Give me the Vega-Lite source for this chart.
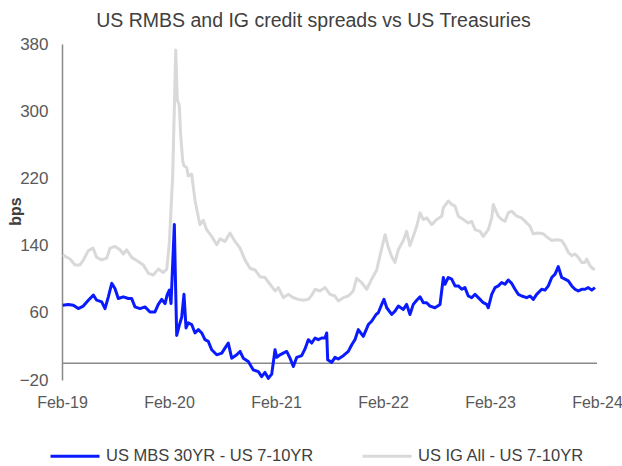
{
  "$schema": "https://vega.github.io/schema/vega-lite/v6.json",
  "width": 535,
  "height": 336,
  "autosize": {"type": "none"},
  "padding": {"left": 62, "top": 44, "right": 25, "bottom": 86},
  "background": "white",
  "config": {"font": "Liberation Sans", "view": {"stroke": null}, "axis": {"grid": false}},
  "title": {"text": "US RMBS and IG credit spreads vs US Treasuries", "fontSize": 19.5, "fontWeight": "normal", "color": "#404040", "anchor": "middle", "dx": -16, "offset": 4},
  "layer": [
    {
      "data": {"values": [{}]},
      "mark": {"type": "rule", "color": "#898989", "strokeWidth": 1.5},
      "encoding": {"y": {"datum": 0, "type": "quantitative"}}
    },
    {
      "data": {"values": [
        {"s": "US IG All - US 7-10YR", "t": 2019.092, "v": 129},
        {"s": "US IG All - US 7-10YR", "t": 2019.160, "v": 124},
        {"s": "US IG All - US 7-10YR", "t": 2019.206, "v": 117},
        {"s": "US IG All - US 7-10YR", "t": 2019.253, "v": 117},
        {"s": "US IG All - US 7-10YR", "t": 2019.281, "v": 122},
        {"s": "US IG All - US 7-10YR", "t": 2019.331, "v": 134},
        {"s": "US IG All - US 7-10YR", "t": 2019.375, "v": 137},
        {"s": "US IG All - US 7-10YR", "t": 2019.409, "v": 126},
        {"s": "US IG All - US 7-10YR", "t": 2019.456, "v": 123},
        {"s": "US IG All - US 7-10YR", "t": 2019.503, "v": 125},
        {"s": "US IG All - US 7-10YR", "t": 2019.534, "v": 137},
        {"s": "US IG All - US 7-10YR", "t": 2019.580, "v": 139},
        {"s": "US IG All - US 7-10YR", "t": 2019.627, "v": 135},
        {"s": "US IG All - US 7-10YR", "t": 2019.658, "v": 130},
        {"s": "US IG All - US 7-10YR", "t": 2019.690, "v": 135},
        {"s": "US IG All - US 7-10YR", "t": 2019.736, "v": 126},
        {"s": "US IG All - US 7-10YR", "t": 2019.798, "v": 121},
        {"s": "US IG All - US 7-10YR", "t": 2019.845, "v": 117},
        {"s": "US IG All - US 7-10YR", "t": 2019.892, "v": 107},
        {"s": "US IG All - US 7-10YR", "t": 2019.938, "v": 105},
        {"s": "US IG All - US 7-10YR", "t": 2019.985, "v": 112},
        {"s": "US IG All - US 7-10YR", "t": 2020.032, "v": 108},
        {"s": "US IG All - US 7-10YR", "t": 2020.064, "v": 112},
        {"s": "US IG All - US 7-10YR", "t": 2020.088, "v": 143},
        {"s": "US IG All - US 7-10YR", "t": 2020.120, "v": 225},
        {"s": "US IG All - US 7-10YR", "t": 2020.141, "v": 337},
        {"s": "US IG All - US 7-10YR", "t": 2020.148, "v": 373},
        {"s": "US IG All - US 7-10YR", "t": 2020.163, "v": 313},
        {"s": "US IG All - US 7-10YR", "t": 2020.181, "v": 307},
        {"s": "US IG All - US 7-10YR", "t": 2020.194, "v": 272},
        {"s": "US IG All - US 7-10YR", "t": 2020.213, "v": 241},
        {"s": "US IG All - US 7-10YR", "t": 2020.225, "v": 235},
        {"s": "US IG All - US 7-10YR", "t": 2020.250, "v": 233},
        {"s": "US IG All - US 7-10YR", "t": 2020.265, "v": 223},
        {"s": "US IG All - US 7-10YR", "t": 2020.297, "v": 225},
        {"s": "US IG All - US 7-10YR", "t": 2020.328, "v": 194},
        {"s": "US IG All - US 7-10YR", "t": 2020.359, "v": 174},
        {"s": "US IG All - US 7-10YR", "t": 2020.375, "v": 165},
        {"s": "US IG All - US 7-10YR", "t": 2020.406, "v": 170},
        {"s": "US IG All - US 7-10YR", "t": 2020.437, "v": 159},
        {"s": "US IG All - US 7-10YR", "t": 2020.484, "v": 151},
        {"s": "US IG All - US 7-10YR", "t": 2020.531, "v": 141},
        {"s": "US IG All - US 7-10YR", "t": 2020.562, "v": 148},
        {"s": "US IG All - US 7-10YR", "t": 2020.608, "v": 145},
        {"s": "US IG All - US 7-10YR", "t": 2020.655, "v": 155},
        {"s": "US IG All - US 7-10YR", "t": 2020.702, "v": 145},
        {"s": "US IG All - US 7-10YR", "t": 2020.749, "v": 137},
        {"s": "US IG All - US 7-10YR", "t": 2020.795, "v": 123},
        {"s": "US IG All - US 7-10YR", "t": 2020.842, "v": 113},
        {"s": "US IG All - US 7-10YR", "t": 2020.889, "v": 111},
        {"s": "US IG All - US 7-10YR", "t": 2020.935, "v": 103},
        {"s": "US IG All - US 7-10YR", "t": 2020.982, "v": 102},
        {"s": "US IG All - US 7-10YR", "t": 2021.029, "v": 94},
        {"s": "US IG All - US 7-10YR", "t": 2021.076, "v": 86},
        {"s": "US IG All - US 7-10YR", "t": 2021.107, "v": 90},
        {"s": "US IG All - US 7-10YR", "t": 2021.153, "v": 78},
        {"s": "US IG All - US 7-10YR", "t": 2021.200, "v": 82},
        {"s": "US IG All - US 7-10YR", "t": 2021.247, "v": 78},
        {"s": "US IG All - US 7-10YR", "t": 2021.293, "v": 76},
        {"s": "US IG All - US 7-10YR", "t": 2021.340, "v": 75},
        {"s": "US IG All - US 7-10YR", "t": 2021.387, "v": 76},
        {"s": "US IG All - US 7-10YR", "t": 2021.419, "v": 81},
        {"s": "US IG All - US 7-10YR", "t": 2021.450, "v": 88},
        {"s": "US IG All - US 7-10YR", "t": 2021.496, "v": 86},
        {"s": "US IG All - US 7-10YR", "t": 2021.543, "v": 90},
        {"s": "US IG All - US 7-10YR", "t": 2021.590, "v": 82},
        {"s": "US IG All - US 7-10YR", "t": 2021.636, "v": 80},
        {"s": "US IG All - US 7-10YR", "t": 2021.667, "v": 74},
        {"s": "US IG All - US 7-10YR", "t": 2021.714, "v": 78},
        {"s": "US IG All - US 7-10YR", "t": 2021.761, "v": 80},
        {"s": "US IG All - US 7-10YR", "t": 2021.807, "v": 86},
        {"s": "US IG All - US 7-10YR", "t": 2021.839, "v": 101},
        {"s": "US IG All - US 7-10YR", "t": 2021.886, "v": 96},
        {"s": "US IG All - US 7-10YR", "t": 2021.933, "v": 88},
        {"s": "US IG All - US 7-10YR", "t": 2021.979, "v": 100},
        {"s": "US IG All - US 7-10YR", "t": 2022.026, "v": 111},
        {"s": "US IG All - US 7-10YR", "t": 2022.057, "v": 128},
        {"s": "US IG All - US 7-10YR", "t": 2022.104, "v": 153},
        {"s": "US IG All - US 7-10YR", "t": 2022.135, "v": 138},
        {"s": "US IG All - US 7-10YR", "t": 2022.166, "v": 127},
        {"s": "US IG All - US 7-10YR", "t": 2022.197, "v": 120},
        {"s": "US IG All - US 7-10YR", "t": 2022.228, "v": 135},
        {"s": "US IG All - US 7-10YR", "t": 2022.275, "v": 146},
        {"s": "US IG All - US 7-10YR", "t": 2022.306, "v": 157},
        {"s": "US IG All - US 7-10YR", "t": 2022.337, "v": 140},
        {"s": "US IG All - US 7-10YR", "t": 2022.368, "v": 151},
        {"s": "US IG All - US 7-10YR", "t": 2022.400, "v": 163},
        {"s": "US IG All - US 7-10YR", "t": 2022.431, "v": 179},
        {"s": "US IG All - US 7-10YR", "t": 2022.462, "v": 171},
        {"s": "US IG All - US 7-10YR", "t": 2022.493, "v": 173},
        {"s": "US IG All - US 7-10YR", "t": 2022.540, "v": 165},
        {"s": "US IG All - US 7-10YR", "t": 2022.587, "v": 171},
        {"s": "US IG All - US 7-10YR", "t": 2022.634, "v": 175},
        {"s": "US IG All - US 7-10YR", "t": 2022.649, "v": 185},
        {"s": "US IG All - US 7-10YR", "t": 2022.695, "v": 193},
        {"s": "US IG All - US 7-10YR", "t": 2022.727, "v": 189},
        {"s": "US IG All - US 7-10YR", "t": 2022.758, "v": 187},
        {"s": "US IG All - US 7-10YR", "t": 2022.789, "v": 175},
        {"s": "US IG All - US 7-10YR", "t": 2022.836, "v": 171},
        {"s": "US IG All - US 7-10YR", "t": 2022.882, "v": 167},
        {"s": "US IG All - US 7-10YR", "t": 2022.914, "v": 169},
        {"s": "US IG All - US 7-10YR", "t": 2022.945, "v": 159},
        {"s": "US IG All - US 7-10YR", "t": 2022.992, "v": 157},
        {"s": "US IG All - US 7-10YR", "t": 2023.022, "v": 151},
        {"s": "US IG All - US 7-10YR", "t": 2023.069, "v": 159},
        {"s": "US IG All - US 7-10YR", "t": 2023.101, "v": 173},
        {"s": "US IG All - US 7-10YR", "t": 2023.116, "v": 189},
        {"s": "US IG All - US 7-10YR", "t": 2023.141, "v": 181},
        {"s": "US IG All - US 7-10YR", "t": 2023.163, "v": 175},
        {"s": "US IG All - US 7-10YR", "t": 2023.194, "v": 171},
        {"s": "US IG All - US 7-10YR", "t": 2023.225, "v": 169},
        {"s": "US IG All - US 7-10YR", "t": 2023.256, "v": 179},
        {"s": "US IG All - US 7-10YR", "t": 2023.288, "v": 181},
        {"s": "US IG All - US 7-10YR", "t": 2023.335, "v": 175},
        {"s": "US IG All - US 7-10YR", "t": 2023.381, "v": 173},
        {"s": "US IG All - US 7-10YR", "t": 2023.428, "v": 167},
        {"s": "US IG All - US 7-10YR", "t": 2023.459, "v": 163},
        {"s": "US IG All - US 7-10YR", "t": 2023.490, "v": 154},
        {"s": "US IG All - US 7-10YR", "t": 2023.536, "v": 155},
        {"s": "US IG All - US 7-10YR", "t": 2023.583, "v": 154},
        {"s": "US IG All - US 7-10YR", "t": 2023.630, "v": 149},
        {"s": "US IG All - US 7-10YR", "t": 2023.662, "v": 146},
        {"s": "US IG All - US 7-10YR", "t": 2023.708, "v": 147},
        {"s": "US IG All - US 7-10YR", "t": 2023.755, "v": 146},
        {"s": "US IG All - US 7-10YR", "t": 2023.786, "v": 140},
        {"s": "US IG All - US 7-10YR", "t": 2023.817, "v": 132},
        {"s": "US IG All - US 7-10YR", "t": 2023.849, "v": 128},
        {"s": "US IG All - US 7-10YR", "t": 2023.879, "v": 130},
        {"s": "US IG All - US 7-10YR", "t": 2023.910, "v": 126},
        {"s": "US IG All - US 7-10YR", "t": 2023.942, "v": 120},
        {"s": "US IG All - US 7-10YR", "t": 2023.973, "v": 120},
        {"s": "US IG All - US 7-10YR", "t": 2023.989, "v": 124},
        {"s": "US IG All - US 7-10YR", "t": 2024.020, "v": 116},
        {"s": "US IG All - US 7-10YR", "t": 2024.050, "v": 112},
        {"s": "US IG All - US 7-10YR", "t": 2024.066, "v": 113},
        {"s": "US MBS 30YR - US 7-10YR", "t": 2019.092, "v": 69},
        {"s": "US MBS 30YR - US 7-10YR", "t": 2019.144, "v": 70},
        {"s": "US MBS 30YR - US 7-10YR", "t": 2019.191, "v": 69},
        {"s": "US MBS 30YR - US 7-10YR", "t": 2019.237, "v": 65},
        {"s": "US MBS 30YR - US 7-10YR", "t": 2019.284, "v": 68},
        {"s": "US MBS 30YR - US 7-10YR", "t": 2019.331, "v": 75},
        {"s": "US MBS 30YR - US 7-10YR", "t": 2019.378, "v": 81},
        {"s": "US MBS 30YR - US 7-10YR", "t": 2019.409, "v": 75},
        {"s": "US MBS 30YR - US 7-10YR", "t": 2019.456, "v": 73},
        {"s": "US MBS 30YR - US 7-10YR", "t": 2019.487, "v": 65},
        {"s": "US MBS 30YR - US 7-10YR", "t": 2019.518, "v": 79},
        {"s": "US MBS 30YR - US 7-10YR", "t": 2019.550, "v": 95},
        {"s": "US MBS 30YR - US 7-10YR", "t": 2019.580, "v": 89},
        {"s": "US MBS 30YR - US 7-10YR", "t": 2019.611, "v": 77},
        {"s": "US MBS 30YR - US 7-10YR", "t": 2019.658, "v": 79},
        {"s": "US MBS 30YR - US 7-10YR", "t": 2019.705, "v": 77},
        {"s": "US MBS 30YR - US 7-10YR", "t": 2019.736, "v": 77},
        {"s": "US MBS 30YR - US 7-10YR", "t": 2019.767, "v": 67},
        {"s": "US MBS 30YR - US 7-10YR", "t": 2019.814, "v": 65},
        {"s": "US MBS 30YR - US 7-10YR", "t": 2019.861, "v": 67},
        {"s": "US MBS 30YR - US 7-10YR", "t": 2019.907, "v": 61},
        {"s": "US MBS 30YR - US 7-10YR", "t": 2019.954, "v": 61},
        {"s": "US MBS 30YR - US 7-10YR", "t": 2019.985, "v": 70},
        {"s": "US MBS 30YR - US 7-10YR", "t": 2020.017, "v": 76},
        {"s": "US MBS 30YR - US 7-10YR", "t": 2020.048, "v": 71},
        {"s": "US MBS 30YR - US 7-10YR", "t": 2020.069, "v": 82},
        {"s": "US MBS 30YR - US 7-10YR", "t": 2020.088, "v": 87},
        {"s": "US MBS 30YR - US 7-10YR", "t": 2020.104, "v": 71},
        {"s": "US MBS 30YR - US 7-10YR", "t": 2020.120, "v": 120},
        {"s": "US MBS 30YR - US 7-10YR", "t": 2020.135, "v": 165},
        {"s": "US MBS 30YR - US 7-10YR", "t": 2020.144, "v": 106},
        {"s": "US MBS 30YR - US 7-10YR", "t": 2020.157, "v": 33},
        {"s": "US MBS 30YR - US 7-10YR", "t": 2020.181, "v": 45},
        {"s": "US MBS 30YR - US 7-10YR", "t": 2020.204, "v": 55},
        {"s": "US MBS 30YR - US 7-10YR", "t": 2020.225, "v": 82},
        {"s": "US MBS 30YR - US 7-10YR", "t": 2020.244, "v": 42},
        {"s": "US MBS 30YR - US 7-10YR", "t": 2020.265, "v": 48},
        {"s": "US MBS 30YR - US 7-10YR", "t": 2020.297, "v": 46},
        {"s": "US MBS 30YR - US 7-10YR", "t": 2020.328, "v": 36},
        {"s": "US MBS 30YR - US 7-10YR", "t": 2020.359, "v": 40},
        {"s": "US MBS 30YR - US 7-10YR", "t": 2020.391, "v": 36},
        {"s": "US MBS 30YR - US 7-10YR", "t": 2020.421, "v": 28},
        {"s": "US MBS 30YR - US 7-10YR", "t": 2020.452, "v": 26},
        {"s": "US MBS 30YR - US 7-10YR", "t": 2020.484, "v": 16},
        {"s": "US MBS 30YR - US 7-10YR", "t": 2020.531, "v": 10},
        {"s": "US MBS 30YR - US 7-10YR", "t": 2020.578, "v": 12},
        {"s": "US MBS 30YR - US 7-10YR", "t": 2020.608, "v": 18},
        {"s": "US MBS 30YR - US 7-10YR", "t": 2020.639, "v": 24},
        {"s": "US MBS 30YR - US 7-10YR", "t": 2020.671, "v": 6},
        {"s": "US MBS 30YR - US 7-10YR", "t": 2020.718, "v": 10},
        {"s": "US MBS 30YR - US 7-10YR", "t": 2020.749, "v": 14},
        {"s": "US MBS 30YR - US 7-10YR", "t": 2020.779, "v": 6},
        {"s": "US MBS 30YR - US 7-10YR", "t": 2020.826, "v": 2},
        {"s": "US MBS 30YR - US 7-10YR", "t": 2020.873, "v": -8},
        {"s": "US MBS 30YR - US 7-10YR", "t": 2020.920, "v": -10},
        {"s": "US MBS 30YR - US 7-10YR", "t": 2020.951, "v": -16},
        {"s": "US MBS 30YR - US 7-10YR", "t": 2020.982, "v": -11},
        {"s": "US MBS 30YR - US 7-10YR", "t": 2021.013, "v": -18},
        {"s": "US MBS 30YR - US 7-10YR", "t": 2021.045, "v": -13},
        {"s": "US MBS 30YR - US 7-10YR", "t": 2021.076, "v": 16},
        {"s": "US MBS 30YR - US 7-10YR", "t": 2021.092, "v": 7},
        {"s": "US MBS 30YR - US 7-10YR", "t": 2021.122, "v": 10},
        {"s": "US MBS 30YR - US 7-10YR", "t": 2021.153, "v": 12},
        {"s": "US MBS 30YR - US 7-10YR", "t": 2021.185, "v": 14},
        {"s": "US MBS 30YR - US 7-10YR", "t": 2021.216, "v": 6},
        {"s": "US MBS 30YR - US 7-10YR", "t": 2021.247, "v": -4},
        {"s": "US MBS 30YR - US 7-10YR", "t": 2021.279, "v": 7},
        {"s": "US MBS 30YR - US 7-10YR", "t": 2021.325, "v": 9},
        {"s": "US MBS 30YR - US 7-10YR", "t": 2021.356, "v": 17},
        {"s": "US MBS 30YR - US 7-10YR", "t": 2021.387, "v": 28},
        {"s": "US MBS 30YR - US 7-10YR", "t": 2021.419, "v": 24},
        {"s": "US MBS 30YR - US 7-10YR", "t": 2021.450, "v": 30},
        {"s": "US MBS 30YR - US 7-10YR", "t": 2021.480, "v": 28},
        {"s": "US MBS 30YR - US 7-10YR", "t": 2021.512, "v": 30},
        {"s": "US MBS 30YR - US 7-10YR", "t": 2021.543, "v": 30},
        {"s": "US MBS 30YR - US 7-10YR", "t": 2021.559, "v": 36},
        {"s": "US MBS 30YR - US 7-10YR", "t": 2021.568, "v": 4},
        {"s": "US MBS 30YR - US 7-10YR", "t": 2021.606, "v": 1},
        {"s": "US MBS 30YR - US 7-10YR", "t": 2021.636, "v": 7},
        {"s": "US MBS 30YR - US 7-10YR", "t": 2021.667, "v": 5},
        {"s": "US MBS 30YR - US 7-10YR", "t": 2021.714, "v": 9},
        {"s": "US MBS 30YR - US 7-10YR", "t": 2021.761, "v": 14},
        {"s": "US MBS 30YR - US 7-10YR", "t": 2021.793, "v": 22},
        {"s": "US MBS 30YR - US 7-10YR", "t": 2021.823, "v": 28},
        {"s": "US MBS 30YR - US 7-10YR", "t": 2021.854, "v": 40},
        {"s": "US MBS 30YR - US 7-10YR", "t": 2021.901, "v": 32},
        {"s": "US MBS 30YR - US 7-10YR", "t": 2021.948, "v": 46},
        {"s": "US MBS 30YR - US 7-10YR", "t": 2021.979, "v": 50},
        {"s": "US MBS 30YR - US 7-10YR", "t": 2022.020, "v": 58},
        {"s": "US MBS 30YR - US 7-10YR", "t": 2022.041, "v": 60},
        {"s": "US MBS 30YR - US 7-10YR", "t": 2022.073, "v": 70},
        {"s": "US MBS 30YR - US 7-10YR", "t": 2022.094, "v": 76},
        {"s": "US MBS 30YR - US 7-10YR", "t": 2022.120, "v": 66},
        {"s": "US MBS 30YR - US 7-10YR", "t": 2022.166, "v": 58},
        {"s": "US MBS 30YR - US 7-10YR", "t": 2022.197, "v": 62},
        {"s": "US MBS 30YR - US 7-10YR", "t": 2022.228, "v": 68},
        {"s": "US MBS 30YR - US 7-10YR", "t": 2022.275, "v": 64},
        {"s": "US MBS 30YR - US 7-10YR", "t": 2022.306, "v": 70},
        {"s": "US MBS 30YR - US 7-10YR", "t": 2022.337, "v": 58},
        {"s": "US MBS 30YR - US 7-10YR", "t": 2022.368, "v": 70},
        {"s": "US MBS 30YR - US 7-10YR", "t": 2022.400, "v": 75},
        {"s": "US MBS 30YR - US 7-10YR", "t": 2022.431, "v": 79},
        {"s": "US MBS 30YR - US 7-10YR", "t": 2022.462, "v": 72},
        {"s": "US MBS 30YR - US 7-10YR", "t": 2022.493, "v": 72},
        {"s": "US MBS 30YR - US 7-10YR", "t": 2022.524, "v": 68},
        {"s": "US MBS 30YR - US 7-10YR", "t": 2022.571, "v": 66},
        {"s": "US MBS 30YR - US 7-10YR", "t": 2022.618, "v": 70},
        {"s": "US MBS 30YR - US 7-10YR", "t": 2022.649, "v": 102},
        {"s": "US MBS 30YR - US 7-10YR", "t": 2022.664, "v": 94},
        {"s": "US MBS 30YR - US 7-10YR", "t": 2022.695, "v": 102},
        {"s": "US MBS 30YR - US 7-10YR", "t": 2022.727, "v": 100},
        {"s": "US MBS 30YR - US 7-10YR", "t": 2022.758, "v": 92},
        {"s": "US MBS 30YR - US 7-10YR", "t": 2022.789, "v": 92},
        {"s": "US MBS 30YR - US 7-10YR", "t": 2022.821, "v": 88},
        {"s": "US MBS 30YR - US 7-10YR", "t": 2022.851, "v": 90},
        {"s": "US MBS 30YR - US 7-10YR", "t": 2022.882, "v": 80},
        {"s": "US MBS 30YR - US 7-10YR", "t": 2022.914, "v": 78},
        {"s": "US MBS 30YR - US 7-10YR", "t": 2022.945, "v": 82},
        {"s": "US MBS 30YR - US 7-10YR", "t": 2022.992, "v": 76},
        {"s": "US MBS 30YR - US 7-10YR", "t": 2023.022, "v": 72},
        {"s": "US MBS 30YR - US 7-10YR", "t": 2023.054, "v": 70},
        {"s": "US MBS 30YR - US 7-10YR", "t": 2023.069, "v": 66},
        {"s": "US MBS 30YR - US 7-10YR", "t": 2023.101, "v": 82},
        {"s": "US MBS 30YR - US 7-10YR", "t": 2023.132, "v": 90},
        {"s": "US MBS 30YR - US 7-10YR", "t": 2023.163, "v": 92},
        {"s": "US MBS 30YR - US 7-10YR", "t": 2023.194, "v": 96},
        {"s": "US MBS 30YR - US 7-10YR", "t": 2023.225, "v": 94},
        {"s": "US MBS 30YR - US 7-10YR", "t": 2023.256, "v": 99},
        {"s": "US MBS 30YR - US 7-10YR", "t": 2023.288, "v": 95},
        {"s": "US MBS 30YR - US 7-10YR", "t": 2023.319, "v": 88},
        {"s": "US MBS 30YR - US 7-10YR", "t": 2023.350, "v": 82},
        {"s": "US MBS 30YR - US 7-10YR", "t": 2023.381, "v": 80},
        {"s": "US MBS 30YR - US 7-10YR", "t": 2023.428, "v": 78},
        {"s": "US MBS 30YR - US 7-10YR", "t": 2023.459, "v": 80},
        {"s": "US MBS 30YR - US 7-10YR", "t": 2023.490, "v": 76},
        {"s": "US MBS 30YR - US 7-10YR", "t": 2023.521, "v": 82},
        {"s": "US MBS 30YR - US 7-10YR", "t": 2023.568, "v": 88},
        {"s": "US MBS 30YR - US 7-10YR", "t": 2023.599, "v": 87},
        {"s": "US MBS 30YR - US 7-10YR", "t": 2023.630, "v": 92},
        {"s": "US MBS 30YR - US 7-10YR", "t": 2023.662, "v": 102},
        {"s": "US MBS 30YR - US 7-10YR", "t": 2023.693, "v": 106},
        {"s": "US MBS 30YR - US 7-10YR", "t": 2023.723, "v": 115},
        {"s": "US MBS 30YR - US 7-10YR", "t": 2023.755, "v": 102},
        {"s": "US MBS 30YR - US 7-10YR", "t": 2023.786, "v": 100},
        {"s": "US MBS 30YR - US 7-10YR", "t": 2023.817, "v": 98},
        {"s": "US MBS 30YR - US 7-10YR", "t": 2023.849, "v": 92},
        {"s": "US MBS 30YR - US 7-10YR", "t": 2023.879, "v": 88},
        {"s": "US MBS 30YR - US 7-10YR", "t": 2023.910, "v": 86},
        {"s": "US MBS 30YR - US 7-10YR", "t": 2023.942, "v": 88},
        {"s": "US MBS 30YR - US 7-10YR", "t": 2023.973, "v": 88},
        {"s": "US MBS 30YR - US 7-10YR", "t": 2024.004, "v": 90},
        {"s": "US MBS 30YR - US 7-10YR", "t": 2024.036, "v": 87},
        {"s": "US MBS 30YR - US 7-10YR", "t": 2024.066, "v": 90}
      ]},
      "mark": {"type": "line", "strokeWidth": 3, "strokeJoin": "round"},
      "encoding": {
        "x": {
          "field": "t", "type": "quantitative",
          "scale": {"domain": [2019.085, 2024.085], "nice": false, "zero": false},
          "axis": {
            "values": [2019.085, 2020.085, 2021.085, 2022.085, 2023.085, 2024.085],
            "labelExpr": "'Feb-' + substring(toString(floor(datum.value)), 2, 4)",
            "domain": false, "ticks": false, "grid": false, "title": null,
            "labelFontSize": 16, "labelColor": "#595959", "labelPadding": 14,
            "labelFlush": false, "labelOverlap": false
          }
        },
        "y": {
          "field": "v", "type": "quantitative",
          "scale": {"domain": [-20, 380], "nice": false, "zero": false},
          "axis": {
            "values": [-20, 60, 140, 220, 300, 380],
            "domain": true, "domainColor": "#898989", "domainWidth": 1.5,
            "ticks": false, "grid": false,
            "labelFontSize": 17, "labelColor": "#595959", "labelPadding": 14,
            "title": "bps", "titleFontSize": 16, "titleFontWeight": "bold", "titleColor": "#404040",
            "titleX": -47, "titleY": 167, "titleAlign": "center", "titleBaseline": "middle", "titleAngle": -90
          }
        },
        "color": {
          "field": "s", "type": "nominal",
          "scale": {"domain": ["US MBS 30YR - US 7-10YR", "US IG All - US 7-10YR"], "range": ["#0A1AFF", "#D9D9D9"]},
          "legend": {
            "orient": "none", "legendX": -13, "legendY": 386, "direction": "horizontal",
            "title": null, "symbolType": "stroke", "symbolSize": 2401, "symbolStrokeWidth": 3,
            "labelFontSize": 16.5, "labelColor": "#404040", "labelOffset": 5, "labelLimit": 400,
            "columnPadding": 42, "padding": 0
          }
        }
      }
    }
  ]
}
